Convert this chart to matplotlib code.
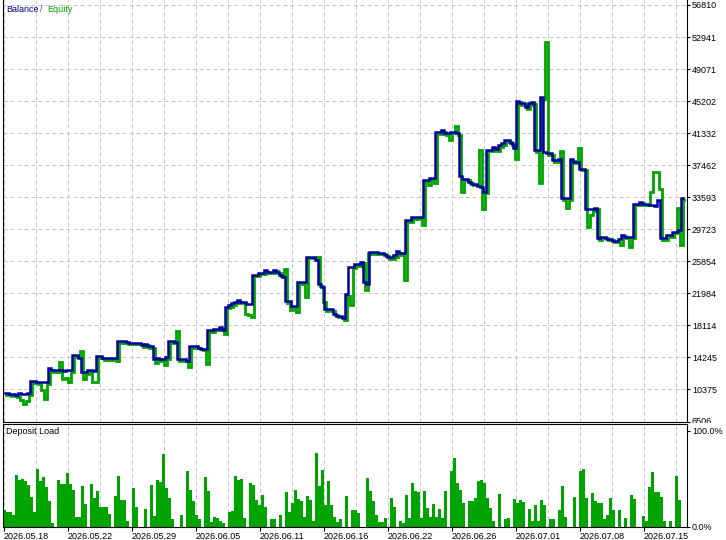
import matplotlib
matplotlib.use('Agg')
import matplotlib.pyplot as plt
import numpy as np
from matplotlib.transforms import Bbox, TransformedBbox, ScaledTranslation

plt.rcParams['font.family'] = ['Liberation Sans', 'DejaVu Sans']
plt.rcParams['font.size'] = 6.5

# Баланс по сделкам
balance = [
    9890, 9890, 9770, 9770, 9650, 9890, 9770, 9770, 9890, 11340,
    11340, 11220, 11220, 11220, 11220, 12910, 12670, 12670, 12670, 12670,
    12550, 12670, 12670, 14490, 14490, 14120, 12430, 12430, 12670, 12670,
    12550, 14370, 14370, 14120, 14120, 14120, 14180, 14180, 16180, 16180,
    16180, 16060, 16000, 16000, 16000, 16000, 15700, 15880, 15580, 15580,
    14000, 14180, 14000, 14000, 14250, 16180, 16180, 16060, 14000, 14000,
    14000, 13760, 15580, 15580, 15580, 15390, 15270, 15270, 17510, 17510,
    17690, 17690, 17870, 17570, 20350, 20530, 20770, 20960, 21140, 20960,
    20960, 20650, 20650, 24220, 24220, 24460, 24460, 24770, 24580, 24580,
    24830, 24580, 24220, 23980, 21020, 21020, 20470, 20470, 23310, 23310,
    23310, 26400, 26400, 26400, 26030, 23070, 22770, 20050, 20050, 20050,
    19500, 19260, 19260, 19020, 21860, 25190, 25190, 25490, 25490, 25790,
    23350, 23070, 26940, 26940, 26940, 26880, 26880, 26640, 26340, 26340,
    26580, 27060, 26820, 26820, 30810, 30810, 31170, 31170, 31230, 31230,
    35710, 35710, 35930, 35930, 41450, 41450, 41690, 41300, 41300, 41490,
    41490, 41300, 36190, 35850, 35850, 35440, 35250, 35250, 34920, 34770,
    34230, 39340, 39340, 39670, 39360, 39880, 40090, 40490, 40490, 40090,
    39480, 45260, 44960, 44960, 44480, 44960, 45080, 39280, 39280, 45680,
    39030, 38910, 38910, 38070, 38070, 38270, 33470, 33470, 33470, 38190,
    37860, 37860, 37060, 37060, 32140, 32140, 32140, 32350, 28630, 28790,
    28790, 28600, 28600, 28310, 28310, 28600, 29080, 28840, 28840, 28840,
    32830, 32830, 33020, 32830, 32830, 32630, 32630, 32500, 33230, 28630,
    28630, 29000, 29000, 29400, 29400, 29600, 33470,
]

# Средства (equity)
equity = [
    9890, 9890, 9770, 9770, 9650, 9290, 8800, 9170, 9890, 11340,
    11340, 11220, 10500, 9410, 11220, 12910, 12670, 12670, 13880, 11800,
    12000, 11460, 12670, 14490, 14490, 15210, 11800, 12430, 12670, 11400,
    11460, 14370, 14370, 14120, 14120, 14120, 14180, 14000, 16180, 16180,
    16180, 16060, 16000, 16000, 16000, 16000, 15700, 15880, 15580, 15580,
    13700, 14180, 14000, 13520, 14250, 16180, 16180, 17630, 14000, 14000,
    14000, 13280, 15580, 15580, 15580, 15390, 15270, 13640, 17510, 17510,
    17690, 17690, 17870, 17300, 20350, 20530, 20770, 20960, 21140, 20960,
    19690, 19500, 19320, 24220, 24220, 24460, 24460, 24770, 24580, 24580,
    24830, 24580, 24220, 25130, 21020, 20200, 20470, 19930, 23310, 23310,
    21740, 26400, 26400, 26400, 26580, 23070, 21140, 20050, 20050, 20050,
    19500, 19260, 19260, 18960, 21860, 20770, 25190, 25490, 25490, 25790,
    22590, 26980, 26940, 26940, 26940, 26880, 26880, 26640, 26340, 26340,
    26580, 27060, 26820, 23800, 30810, 30810, 31170, 31170, 31230, 30400,
    35710, 35250, 35930, 35440, 41450, 41450, 41690, 41300, 40690, 41490,
    42380, 41300, 34430, 35850, 35850, 35440, 35250, 35250, 39480, 32400,
    34230, 39340, 39340, 39670, 39360, 39880, 40090, 40490, 40490, 40090,
    38450, 45260, 44960, 44960, 44480, 44960, 45080, 39280, 35440, 45680,
    52580, 38910, 38910, 38070, 38070, 39360, 33470, 32500, 33470, 38190,
    37860, 39670, 37060, 37060, 30210, 31650, 32140, 32350, 28630, 28790,
    28790, 28600, 28600, 28310, 28310, 28030, 29080, 28840, 27790, 28840,
    32830, 32830, 33020, 32830, 32830, 34440, 36860, 36860, 34800, 28630,
    28630, 29000, 29000, 29400, 32500, 28030, 33470,
]

# Загрузка депозита, %
deposit_load = [
    17.7, 15, 15, 11.5, 54, 48.6, 50, 47, 43.7, 31,
    15, 60, 47, 52, 41, 27, 3.5, 0, 48, 44,
    44.5, 56, 44, 38, 10.4, 10.4, 42, 23.6, 0, 44,
    30, 37, 20.8, 20.8, 20.8, 13, 0, 32, 53, 28,
    28, 6, 0, 40, 20, 0, 0, 18.4, 0, 43.7,
    10.8, 48, 46, 75.7, 40, 30, 8, 0, 0, 11.5,
    0, 58, 38, 27, 11.5, 7.3, 0, 52, 37.5, 5,
    10.4, 9, 6, 3.5, 0, 15, 16, 53, 48.6, 49.7,
    9, 0, 45, 43.7, 27.8, 22, 33, 20.8, 0, 7.3,
    7.3, 0, 11.5, 0, 35.7, 15, 25, 38.5, 29, 27,
    10.4, 32, 27.8, 6, 77, 42, 59, 22, 47, 22,
    10.4, 4.5, 8, 0, 32, 0, 17.4, 16.7, 14, 0,
    0, 51, 37.5, 27, 12.5, 5, 5, 8.7, 0, 29.5,
    20, 0, 6, 3.5, 33, 8.7, 45, 37.5, 35.5, 8.7,
    37.5, 19, 10.4, 23, 10.4, 18.4, 8.7, 37.5, 0, 58,
    71.5, 45, 38.5, 25, 0, 27, 27, 30, 47, 48.5,
    45, 30, 19, 6, 0, 34, 0, 7.3, 9, 0,
    29, 25, 27.8, 26, 0, 18, 6, 22, 5.5, 27.8,
    22, 0, 8, 8, 0, 16.7, 42, 10.4, 0, 0,
    31, 0, 58, 60, 29.5, 0, 34.5, 27, 24, 25,
    8, 11.5, 30, 16.7, 0, 16.7, 0, 9, 0, 33,
    29, 0, 0, 11, 6, 41, 57, 35.7, 36, 31,
    6, 0, 6, 0, 53, 27.8, 0,
]

price_ticks = [6506, 10375, 14245, 18114, 21984, 25854, 29723, 33593,
               37462, 41332, 45202, 49071, 52941, 56810]
date_labels = ['2026.05.18', '2026.05.22', '2026.05.29', '2026.06.05',
               '2026.06.11', '2026.06.16', '2026.06.22', '2026.06.26',
               '2026.07.01', '2026.07.08', '2026.07.15']

BLUE = '#0000a0'
GREEN = '#00a400'
GRID = '#c4c4c4'
W, H = 726, 540

fig = plt.figure(figsize=(W / 100, H / 100), dpi=100)


def px_axes(left, top, right, bottom):
    # оси в пиксельных координатах картинки
    return fig.add_axes([left / W, 1 - bottom / H, (right - left) / W, (bottom - top) / H])


ax = px_axes(2.5, 0, 686.5, 421.5)
ax2 = px_axes(2.5, 423.5, 686.5, 526.5)

n = len(balance)
idx = np.arange(n)
xlim = (-2 / 3, (686.5 - 4.5) / 3)

# сетка: каждые 32 пикселя, даты каждые 64
grid_pos = [(32 * k - 0.8) / 3 for k in range(22)]
date_pos = grid_pos[::2]

# --- Баланс / Средства ---
shift = ax.transData + ScaledTranslation(1.5 / 100, -1.5 / 100, fig.dpi_scale_trans)
ax.plot(idx, equity, color=GREEN, lw=2.0, drawstyle='steps-mid', transform=shift,
        solid_joinstyle='miter')
ax.plot(idx, balance, color=BLUE, lw=1.8, drawstyle='steps-mid', solid_joinstyle='miter')

scale = (price_ticks[-1] - price_ticks[0]) / (421.5 - 5)
ax.set_ylim(price_ticks[0], price_ticks[0] + 421.5 * scale)
ax.set_xlim(*xlim)
ax.set_yticks(price_ticks, [''] + [str(v) for v in price_ticks[1:]])
ax.set_xticks(grid_pos)
ax.yaxis.tick_right()
ax.tick_params(axis='y', direction='out', length=2.5, width=0.8, pad=1.5, labelsize=6.5)
ax.tick_params(axis='x', length=0, labelbottom=False)
ax.grid(True, color=GRID, linestyle=(0, (4, 3)), linewidth=0.72)
ax.set_axisbelow(True)
ax.spines['top'].set_visible(False)
for s in ['left', 'right', 'bottom']:
    ax.spines[s].set_linewidth(0.8)

# нижняя цена обрезана рамкой
t = fig.text(691 / W, 1 - 421 / H, str(price_ticks[0]), va='center', ha='left',
             fontsize=6.5, clip_on=True)
t.set_clip_box(TransformedBbox(Bbox([[0, 1 - 422.5 / H], [1, 1]]), fig.transFigure))

# заголовок "Balance / Equity"
fig.text(6 / W, 1 - 10 / H, 'Balance', color='#000090', va='center', ha='left')
fig.text(40.5 / W, 1 - 10 / H, '/', color='#505050', va='center', ha='left')
fig.text(47 / W, 1 - 10 / H, 'Equity', color=GREEN, va='center', ha='left')

# --- Загрузка депозита ---
ax2.bar(idx, deposit_load, width=0.85, color=GREEN, linewidth=0)
ax2.set_xlim(*xlim)
ax2.set_ylim(0, 100 * (526.5 - 423.5) / 96)
ax2.yaxis.tick_right()
ax2.set_yticks([0, 100], ['0.0%', '100.0%'])
ax2.tick_params(axis='y', direction='out', length=2.5, width=0.8, pad=1.5, labelsize=6.5)
ax2.set_xticks(date_pos, date_labels, ha='left')
ax2.set_xticks(grid_pos, minor=True)
ax2.tick_params(axis='x', which='major', direction='out', length=3, width=0.8, pad=1,
                labelsize=6.5)
ax2.tick_params(axis='x', which='minor', length=0)
ax2.grid(True, axis='x', which='both', color=GRID, linestyle=(0, (4, 3)), linewidth=0.72)
ax2.set_axisbelow(True)
for s in ['left', 'right', 'bottom', 'top']:
    ax2.spines[s].set_linewidth(0.8)
fig.text(6 / W, 1 - 431 / H, 'Deposit Load', va='center', ha='left', color='black')

fig.savefig('out.png', dpi=100)
